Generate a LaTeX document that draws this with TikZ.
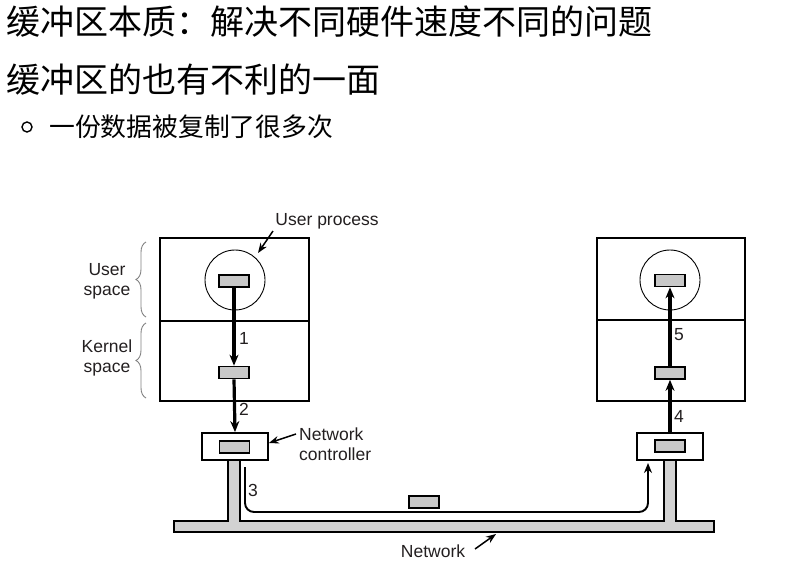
\documentclass[tikz,border=0pt]{standalone}
\usepackage{fontspec}
\setmainfont{Liberation Sans}
\newfontfamily\cjk{Noto Sans CJK SC}
\usetikzlibrary{arrows.meta,decorations.pathreplacing}
\definecolor{bufgray}{HTML}{C8C8C8}
\definecolor{busgray}{HTML}{D2D2D2}
\definecolor{txt}{HTML}{231F20}
\tikzset{
  box/.style={draw, line width=1.8pt, inner sep=0pt, minimum width=149pt},
  buf/.style={draw, fill=bufgray, line width=1.6pt, inner sep=0pt, minimum width=30pt, minimum height=12pt},
  ctl/.style={draw, line width=1.8pt, inner sep=0pt, minimum width=66pt, minimum height=27pt},
  proc/.style={draw, circle, line width=0.9pt, inner sep=0pt, minimum size=60pt},
  flow/.style={line width=3.2pt, -{Stealth[length=11pt,width=9pt]}},
  thinarrow/.style={line width=1.5pt, -{Stealth[length=10pt,width=7.5pt]}},
  lbl/.style={font=\fontsize{17.5}{20}\selectfont, text=txt, inner sep=0pt},
  bracestyle/.style={draw=gray, line width=0.9pt, decorate, decoration={brace, amplitude=10pt}},
}
\begin{document}
\begin{tikzpicture}[x=1pt,y=-1pt]
\useasboundingbox (0,0) rectangle (786,565);
% titles
\node[anchor=west, inner sep=0pt, font=\cjk\fontsize{34}{36}\selectfont] (t1) at (6,22) {缓冲区本质：解决不同硬件速度不同的问题};
\node[anchor=west, inner sep=0pt, font=\cjk\fontsize{34}{36}\selectfont] (t2) at (6,80) {缓冲区的也有不利的一面};
\node[draw, circle, line width=1.4pt, minimum size=10pt, inner sep=0pt] (bul) at (27,127) {};
\node[anchor=west, inner sep=0pt, font=\cjk\fontsize{25.8}{28}\selectfont] (t3) at (49,127) {一份数据被复制了很多次};
% network bus
\draw[line width=1.5pt, fill=busgray] (174,521) -- (228,521) -- (228,460) -- (240,460) -- (240,521)
  -- (664,521) -- (664,460) -- (676,460) -- (676,521) -- (714,521) -- (714,532) -- (174,532) -- cycle;
% left machine
\node[box, minimum height=83pt] (luser) at (234.5,279.5) {};
\node[box, minimum height=80pt] (lkern) at (234.5,361) {};
\node[proc] (lproc) at (235,280) {};
\node[buf] (lub) at (234,281) {};
\node[buf] (lkb) at (234,372.5) {};
\node[ctl, fill=white] (lctl) at (235,446.5) {};
\node[buf] (lcb) at (234.5,447) {};
% right machine
\node[box, minimum width=148pt, minimum height=82pt] (ruser) at (671,279) {};
\node[box, minimum width=148pt, minimum height=81pt] (rkern) at (671,360.5) {};
\node[proc] (rproc) at (670,280) {};
\node[buf] (rub) at (670,280.5) {};
\node[buf] (rkb) at (670,373) {};
\node[ctl, fill=white] (rctl) at (670,446.5) {};
\node[buf] (rcb) at (670,446) {};
% packet
\node[buf] (pkt) at (424,502) {};
% flows
\draw[flow] (lub.south) -- (lkb.north);
\draw[flow] (lkb.south) -- (lctl.north);
\draw[flow] (rctl.north) -- (rkb.south);
\draw[flow] (rkb.north) -- (rub.south);
\coordinate (p3s) at (245,467);
\coordinate (p3e) at (648,463);
\coordinate (p3y) at (0,512);
\draw[line width=1.9pt, rounded corners=9pt, -{Stealth[length=10pt,width=8pt]}] (p3s) -- (p3s |- p3y) -- (p3e |- p3y) -- (p3e);
% numbers
\node[lbl, anchor=west] (n1) at (239,338) {1};
\node[lbl, anchor=west] (n2) at (239,409) {2};
\node[lbl, anchor=west] (n3) at (248,490) {3};
\node[lbl, anchor=west] (n4) at (674,416) {4};
\node[lbl, anchor=west] (n5) at (674,335) {5};
% labels
\node[lbl] (uproc) at (327,221) {User process};
\coordinate (uptip) at (258,253);
\draw[thinarrow] (273,231) -- (uptip);
\node[lbl, align=left, anchor=west] (nctl) at (299,444) {Network\\controller};
\draw[thinarrow] (296,434) -- (lctl.east |- 0,443);
\node[lbl] (net) at (433,551) {Network};
\coordinate (nettip) at (496,534);
\draw[thinarrow] (475,549) -- (nettip);
% braces
\draw[bracestyle] (146,317) -- (146,242);
\draw[bracestyle] (146,398) -- (146,323);
\node[lbl, align=center] (us) at (107,281) {User\\space};
\node[lbl, align=center] (ks) at (107,358) {Kernel\\space};
\end{tikzpicture}
\end{document}
